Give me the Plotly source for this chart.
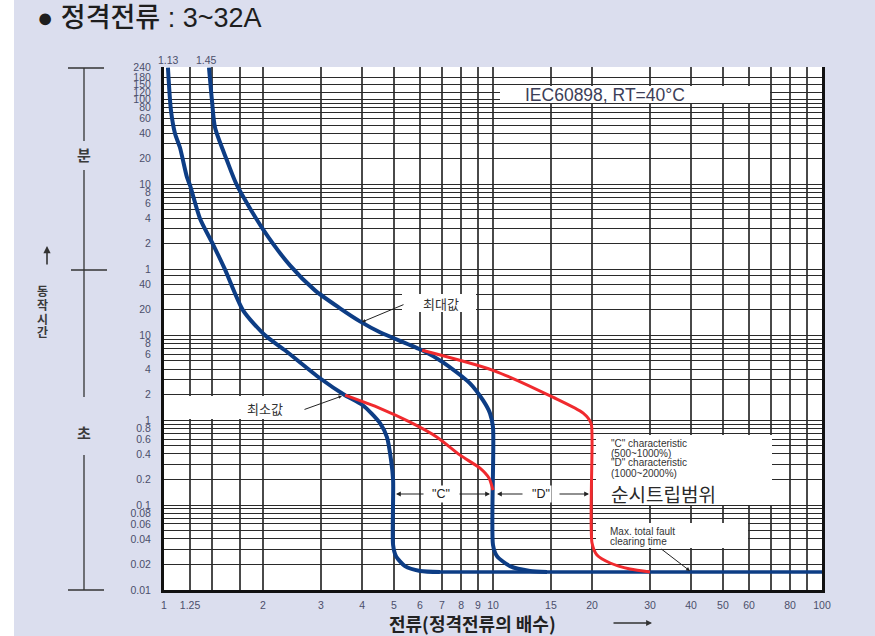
import math
import plotly.graph_objects as go

# ---------------- data ----------------
# x: multiple of rated current, t: operating time in seconds
min_x = [1.028, 1.050, 1.080, 1.118, 1.175, 1.2, 1.286, 1.409, 1.532, 1.739, 2.028, 2.332,
         2.979, 3.55, 4.02, 4.535, 4.76, 4.9, 4.97, 4.97, 5.07, 5.40, 6.0, 6.9]
min_t = [14220, 4436, 2379, 1629, 722, 582, 238, 118, 59.8, 19.7, 10, 6.66,
         3.12, 1.97, 1.50, 0.922, 0.631, 0.338, 0.197, 0.0339, 0.0251, 0.0191, 0.01674, 0.0163]

max_x = [1.37, 1.399, 1.429, 1.554, 1.667, 2.0, 2.415, 2.877, 3.427, 3.942, 4.535, 6.09,
         7.05, 8.51, 9.32, 9.79, 10, 10, 10.28, 11.27, 12.96, 14.6]
max_t = [14220, 5821, 2800, 1145, 582, 177, 66.6, 33.8, 20.8, 14.6, 10.85, 6.66,
         4.81, 2.72, 1.72, 1.21, 0.827, 0.0339, 0.0251, 0.0191, 0.01674, 0.0163]

clear_x = [6.9, 100]
clear_t = [0.0163, 0.0163]

c_x = [3.55, 4.535, 5.6, 6.76, 7.94, 9.13, 9.72, 10]
c_t = [1.97, 1.38, 0.947, 0.631, 0.388, 0.272, 0.208, 0.15]

d_x = [6.09, 10, 15.2, 18.8, 19.86, 20, 20, 20.7, 22.7, 26.1, 30]
d_t = [6.66, 3.87, 1.865, 1.21, 0.922, 0.582, 0.0357, 0.0258, 0.0208, 0.01766, 0.0163]

x_grid = [1, 1.2, 1.4, 1.7, 2, 3, 4, 5, 6, 7, 8, 9, 10, 15, 20, 30, 40, 50, 60, 70, 80, 90, 100]
x_labels = ["1", "1.25", "", "", "2", "3", "4", "5", "6", "7", "8", "9", "10", "15", "20",
            "30", "40", "50", "60", "", "80", "", "100"]

sec_grid = [0.01, 0.02, 0.03, 0.04, 0.05, 0.06, 0.07, 0.08, 0.09,
            0.1, 0.2, 0.3, 0.4, 0.5, 0.6, 0.7, 0.8, 0.9,
            1, 2, 3, 4, 5, 6, 7, 8, 9, 10, 20, 30, 40, 50]
sec_labels = ["0.01", "0.02", "", "0.04", "", "0.06", "", "0.08", "",
              "0.1", "0.2", "", "0.4", "", "0.6", "", "0.8", "",
              "1", "2", "", "4", "", "6", "", "8", "", "10", "20", "", "40", ""]
min_grid = [1, 2, 3, 4, 5, 6, 7, 8, 9, 10, 20, 30, 40, 50, 60, 70, 80, 90, 100, 120, 150, 180, 240]
min_labels = ["1", "2", "", "4", "", "6", "", "8", "", "10", "20", "", "40", "", "60", "",
              "80", "", "100", "120", "150", "180", "240"]

y_tickvals = sec_grid + [m * 60 for m in min_grid]
y_ticktext = sec_labels + min_labels

# ---------------- layout helpers ----------------
W, H = 875, 636
L, R, T, B = 164, 53, 67, 46
PW, PH = W - L - R, H - T - B

def PX(px):
    return (px - L) / PW

def PY(py):
    return (H - B - py) / PH

KR = "Noto Sans CJK KR"
LAT = "Liberation Sans, Arial, sans-serif"
MIX = "Liberation Sans, Noto Sans CJK KR, sans-serif"
BLUE = "#0d3d85"
RED = "#f02a2e"
TICK = "#4b4f6b"

fig = go.Figure()
for xs, ts, col, w in [(min_x, min_t, BLUE, 4), (max_x, max_t, BLUE, 4),
                       (clear_x, clear_t, BLUE, 3.5), (c_x, c_t, RED, 3), (d_x, d_t, RED, 3)]:
    fig.add_trace(go.Scatter(x=xs, y=ts, mode="lines",
                             line=dict(color=col, width=w, shape="spline", smoothing=0.7),
                             hoverinfo="skip"))

shapes = []
# left white strip
shapes.append(dict(type="rect", xref="paper", yref="paper", x0=PX(0), x1=PX(14), y0=PY(H), y1=PY(0),
                   fillcolor="white", line=dict(width=0), layer="below"))
# left scale lines
for (y0, y1) in [(68, 141), (170, 397), (455, 590)]:
    shapes.append(dict(type="line", xref="paper", yref="paper", x0=PX(84), x1=PX(84),
                       y0=PY(y0), y1=PY(y1), line=dict(color="#333", width=1.3)))
for (yy, xa, xb) in [(68, 68, 104), (270, 71, 107), (590, 68, 104)]:
    shapes.append(dict(type="line", xref="paper", yref="paper", x0=PX(xa), x1=PX(xb),
                       y0=PY(yy), y1=PY(yy), line=dict(color="#333", width=1.3)))
# white label boxes
for (x0, y0, x1, y1) in [(500, 86, 770, 103), (402, 294, 476, 312), (166, 396, 302, 419),
                         (596, 435, 772, 505), (596, 523, 748, 548)]:
    shapes.append(dict(type="rect", xref="paper", yref="paper", x0=PX(x0), x1=PX(x1),
                       y0=PY(y1), y1=PY(y0), fillcolor="white", line=dict(width=0), layer="above"))

ann = []

def text(t, px, py, size, color="#333", family=KR, xanchor="center", **kw):
    ann.append(dict(text=t, x=PX(px), y=PY(py), xref="paper", yref="paper", showarrow=False,
                    xanchor=xanchor, yanchor="middle",
                    font=dict(size=size, color=color, family=family), **kw))

def arrow(hx, hy, tx, ty, head=2, size=1.0, width=1.0, color="#222"):
    ann.append(dict(text="", x=PX(hx), y=PY(hy), xref="paper", yref="paper",
                    ax=tx - hx, ay=ty - hy, showarrow=True, arrowhead=head,
                    arrowsize=size, arrowwidth=width, arrowcolor=color, standoff=0))

# curve top labels
text("1.13", 168, 60, 10.5, TICK, LAT)
text("1.45", 206, 60, 10.5, TICK, LAT)
# box labels
text("IEC60898, RT=40°C", 523, 95, 17.5, "#3c3e58", LAT, xanchor="left")
text("최대값", 441, 303, 13, "#333")
text("최소값", 265, 408, 13, "#333")
arrow(362, 322, 405, 304, head=2, size=0.7, width=1)
arrow(342, 396, 303, 410, head=2, size=0.7, width=1)
# C / D ranges
text('"C"', 441, 494, 12.5, "#222", LAT, bgcolor="white")
text('"D"', 541, 494, 12.5, "#222", LAT, bgcolor="white")
arrow(396, 494, 425, 494, head=2, size=0.8, width=1.2)
arrow(490, 494, 458, 494, head=2, size=0.8, width=1.2)
arrow(497, 494, 524, 494, head=2, size=0.8, width=1.2)
arrow(589, 494, 558, 494, head=2, size=0.8, width=1.2)
# characteristic text box
text('"C" characteristic', 609, 443, 10, "#333", LAT, xanchor="left")
text("(500~1000%)", 609, 453, 10, "#333", LAT, xanchor="left")
text('"D" characteristic', 609, 463, 10, "#333", LAT, xanchor="left")
text("(1000~2000%)", 609, 473, 10, "#333", LAT, xanchor="left")
text("순시트립범위", 609, 493, 19, "#2a2a2a", KR, xanchor="left")
text("Max. total fault", 608, 531, 10, "#333", LAT, xanchor="left")
text("clearing time", 608, 541, 10, "#333", LAT, xanchor="left")
arrow(690, 571, 660, 548, head=2, size=0.8, width=1)
# left side labels
text("<b>분</b>", 84, 155, 15, "#3a3a3a")
text("<b>초</b>", 84, 432, 15, "#3a3a3a")
for ch, yy in zip("동작시간", [290, 304, 318, 332]):
    text("<b>" + ch + "</b>", 43, yy, 12, "#3a3a3a")
arrow(47, 246, 47, 266, head=2, size=0.9, width=1.6, color="#333")
# x axis title
text("<b>전류(정격전류의 배수)</b>", 472, 623, 18, "#222")
arrow(652, 623, 612, 623, head=2, size=0.9, width=1.3, color="#333")

fig.update_layout(
    width=W, height=H,
    margin=dict(l=L, r=R, t=T, b=B),
    paper_bgcolor="#dbdeee",
    plot_bgcolor="white",
    showlegend=False,
    title=dict(text="● 정격전류 : 3~32A", x=37 / W, xanchor="left", y=1 - 18 / H, yanchor="middle",
               font=dict(family=MIX, size=27, color="#1e1e1e", weight=500)),
    shapes=shapes,
    annotations=ann,
    xaxis=dict(type="log", range=[0, 2], tickvals=x_grid, ticktext=x_labels,
               showgrid=True, gridcolor="#4a4a4a", gridwidth=1.6, zeroline=False,
               showline=True, linecolor="#111", linewidth=3, ticks="",
               tickangle=0, tickfont=dict(family=LAT, size=10.5, color=TICK),
               ticklabelstandoff=3),
    yaxis=dict(type="log", range=[-2, math.log10(14400) + 0.002], tickvals=y_tickvals,
               ticktext=y_ticktext, showgrid=True, gridcolor="#2a2a2a", gridwidth=1,
               zeroline=False, showline=True, mirror=True, linecolor="#111", linewidth=3,
               ticks="", tickfont=dict(family=LAT, size=10.5, color=TICK),
               ticklabelstandoff=8),
)

fig.write_html("out.html", config={"displayModeBar": False},
               post_script="document.body.style.margin='0px';document.body.style.padding='0px';")
